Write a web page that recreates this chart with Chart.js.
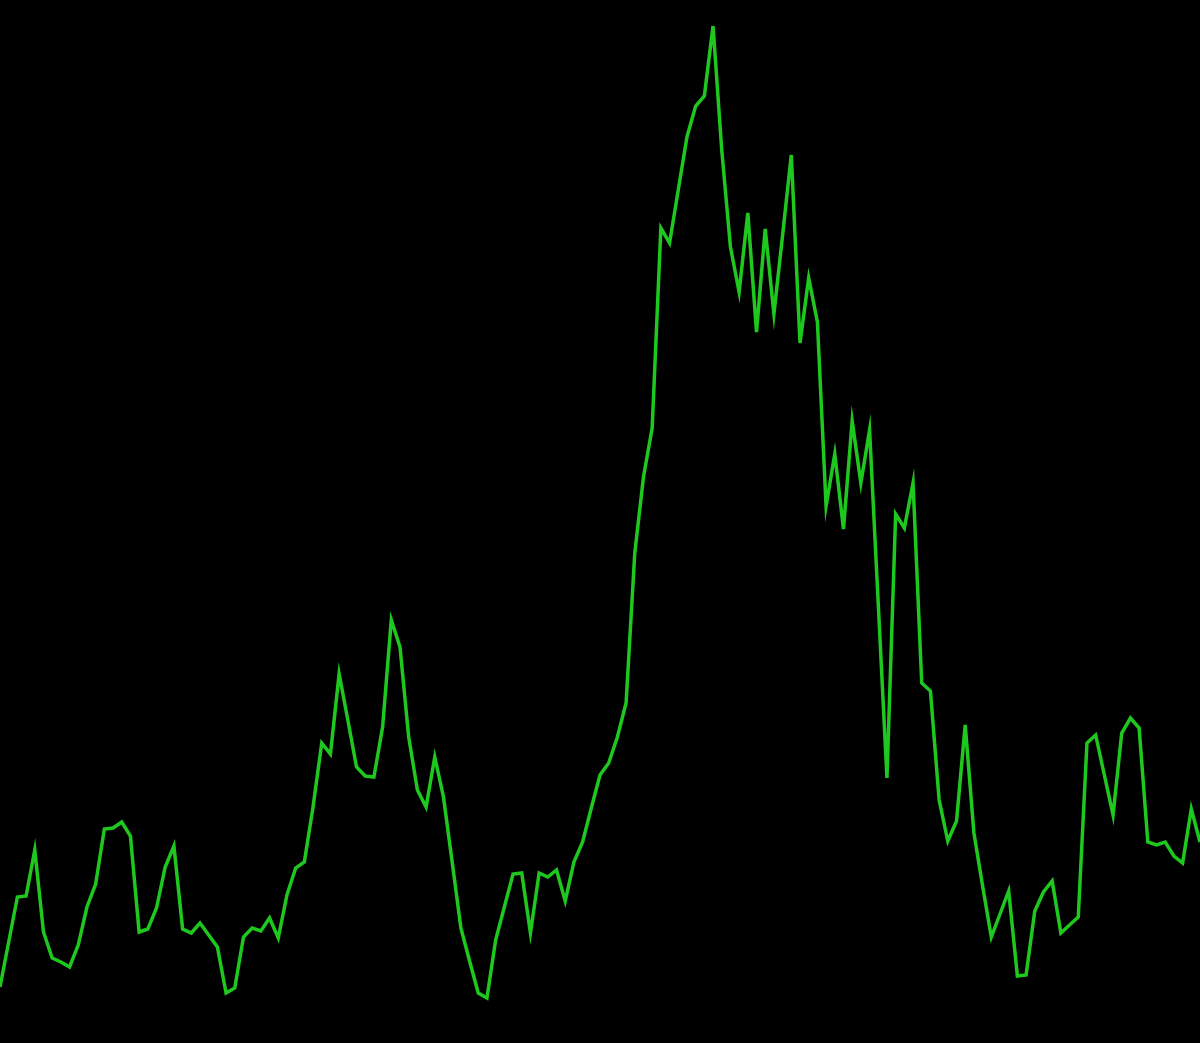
<!DOCTYPE html>
<html>
<head>
<meta charset="utf-8">
<script src="https://cdn.jsdelivr.net/npm/chart.js@4"></script>
<style>
  html, body { margin: 0; padding: 0; background: #000; overflow: hidden; }
  canvas { display: block; }
</style>
</head>
<body>
<canvas id="grafico" width="1200" height="1043"></canvas>
<script>
// values (no axis in the reference, so arbitrary units)
const valores = [
  56, 101, 146, 147, 193, 111, 85, 81, 76, 98,
  136, 159, 214, 215, 221, 207, 111, 114, 135, 176,
  197, 114, 110, 120, 108, 96, 50, 55, 106, 115,
  112, 125, 105, 148, 175, 181, 236, 300, 289, 369,
  323, 276, 267, 266, 316, 423, 396, 306, 253, 236,
  286, 246, 181, 115, 82, 50, 45, 103, 136, 169,
  170, 110, 170, 166, 173, 142, 181, 201, 235, 268,
  280, 306, 340, 490, 566, 615, 815, 800, 853, 906,
  937, 947, 1017, 893, 796, 751, 830, 711, 814, 729,
  808, 888, 700, 765, 721, 537, 589, 514, 622, 560,
  613, 439, 265, 529, 515, 560, 360, 352, 243, 202,
  222, 318, 210, 157, 106, 129, 152, 67, 68, 132,
  151, 162, 110, 118, 126, 300, 308, 268, 228, 310,
  325, 315, 201, 198, 201, 187, 180, 234, 201
];
const etiquetas = valores.map((v, i) => i);

const yMin = 0;
const yMax = 1043;

const canvas = document.getElementById('grafico');
new Chart(canvas, {
  type: 'line',
  data: {
    labels: etiquetas,
    datasets: [{
      data: valores,
      borderColor: '#1ec81e',
      borderWidth: 3.5,
      pointRadius: 0,
      tension: 0,
      fill: false
    }]
  },
  options: {
    responsive: false,
    animation: false,
    layout: { padding: 0 },
    plugins: { legend: { display: false }, tooltip: { enabled: false } },
    scales: {
      x: { display: false, offset: false },
      y: { display: false, min: yMin, max: yMax }
    }
  }
});
</script>
</body>
</html>
